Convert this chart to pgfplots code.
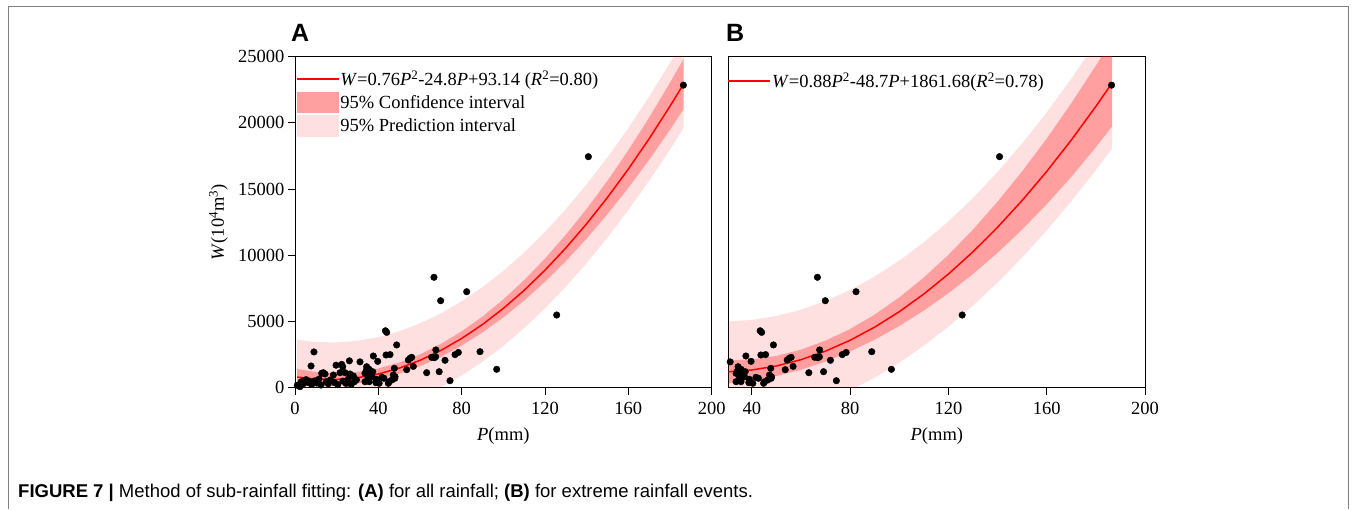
\documentclass[border=0pt]{standalone}
\usepackage{fontspec}
\setmainfont{Liberation Serif}
\newfontfamily\arialfont{Liberation Sans}
\usepackage{pgfplots}
\pgfplotsset{compat=1.18}
\usepackage{pgfplotstable}

\definecolor{cileg}{RGB}{255,160,160}
\definecolor{pileg}{RGB}{255,224,224}

\pgfplotstableread{
P W
1.1 180
2.4 80
3.0 450
4.0 300
4.8 580
5.5 600
6.5 380
7.2 453
7.7 1640
8.0 250
9.1 2700
9.5 520
10.5 350
11.5 650
12.5 200
12.8 1088
13.6 1133
14.4 1035
15.0 450
16.0 300
17.0 580
18.4 959
19.0 380
19.7 1700
20.5 230
21.6 1133
22.4 1760
22.9 1580
23.0 500
24.0 1133
24.5 320
25.5 650
26.1 2030
26.4 1035
27.0 250
28.0 884
28.5 450
29.5 600
31.2 1950
33.6 1088
33.6 453
34.3 1337
34.4 1586
35.0 831
35.6 1390
35.6 453
36.3 1035
37.0 831
37.3 1208
37.6 2394
38.8 378
39.0 634
39.7 1990
40.4 332
41.7 785
42.7 710
43.4 4300
43.7 2470
44.0 4180
44.8 332
45.1 453
45.6 2500
46.5 582
47.2 959
47.7 1465
47.9 710
48.0 831
48.8 3230
53.6 1360
54.4 2092
55.2 2220
56.0 2296
56.8 1610
63.2 1133
65.6 2296
66.7 8340
66.9 2266
67.5 2340
67.6 2850
69.2 1208
69.9 6570
72.0 2070
74.4 529
76.8 2500
78.4 2660
82.4 7250
88.8 2720
96.8 1390
125.6 5490
140.8 17450
186.4 22850
}\ptsdata

\pgfplotstableread{
P fit
1 805
10 649
20 624
30 753
40 1036
50 1475
60 2068
70 2817
80 3720
90 4777
100 5990
110 7357
120 8880
130 10557
140 12388
150 14375
160 16516
170 18813
180 21264
186.5 22939
}\fitA

\pgfplotstableread{
P fit
30.6 1207
40 1336
50 1640
60 2116
70 2764
80 3584
90 4576
100 5740
110 7076
120 8584
130 10264
140 12116
150 14140
160 16336
170 18704
180 21244
186.6 23015
}\fitB

\pgfplotsset{
  myaxis/.style={
    scale only axis, height=331pt, anchor=south west,
    ymin=0, ymax=25000,
    axis line style={line width=0.9pt},
    every tick/.style={line width=0.9pt, black},
    tick align=outside, major tick length=7pt,
    xtick pos=bottom, ytick pos=left,
    font=\fontsize{18.5}{22}\selectfont,
    ticklabel style={font=\fontsize{18.5}{22}\selectfont},
    xticklabel style={yshift=-4pt},
    /pgf/number format/assume math mode=true,
    /pgf/number format/1000 sep={},
    scaled ticks=false,
    xlabel style={at={(axis description cs:0.5,-0.121)}, anchor=north, inner sep=0pt},
    ylabel style={at={(axis description cs:-0.161,0.5)}, anchor=south, inner sep=0pt},
    legend style={draw=none, fill=none, inner sep=0pt, row sep=2pt,
      nodes={inner sep=1pt}, cells={anchor=west},
      font=\fontsize{18.5}{22}\selectfont},
  },
  lineleg/.style={legend image code/.code={
      \path[draw=none, fill=none] (0pt,-10.75pt) rectangle (42pt,10.75pt);
      \draw[red, line width=1.5pt] (0pt,0pt) -- (42pt,0pt);}},
  cileg/.style={legend image code/.code={
      \fill[cileg, draw=none] (0pt,-10.75pt) rectangle (42pt,10.75pt);}},
  pileg/.style={legend image code/.code={
      \fill[pileg, draw=none] (0pt,-10.75pt) rectangle (42pt,10.75pt);}},
  ptsstyle/.style={only marks, mark=*, mark size=3.3pt, black, forget plot},
  pistyle/.style={fill=red, fill opacity=0.12, draw=none, mark=none, forget plot},
  cistyle/.style={fill=red, fill opacity=0.286, draw=none, mark=none, forget plot},
}

\begin{document}
\begin{tikzpicture}
\fill[white] (0pt,0pt) rectangle (1356pt,509pt);
\draw[black!50, line width=0.9pt] (8pt,0pt) -- (8pt,503pt) -- (1348pt,503pt) -- (1348pt,0pt);

% Panel A
\begin{axis}[myaxis, at={(295pt,121.3pt)}, width=416.7pt,
  xmin=0, xmax=200, xtick={0,40,...,200}, ytick={0,5000,...,25000},
  xlabel={\textit{P}(mm)}, ylabel={\textit{W}(10\textsuperscript{4}m\textsuperscript{3})},
  legend style={at={(0,1)}, anchor=north west, xshift=0.7pt, yshift=-11.55pt}]
\addplot[ptsstyle] table[x=P,y=W]{\ptsdata};
\addplot[pistyle] coordinates {(1,3622) (10,3452) (20,3416) (30,3538) (40,3818) (50,4258) (60,4855) (70,5610) (80,6523) (90,7592) (100,8823) (110,10213) (120,11767) (130,13483) (140,15357) (150,17400) (160,19610) (170,21995) (180,24540) (186.5,26277)
 (186.5,19601) (180,17988) (170,15631) (160,13422) (150,11350) (140,9419) (130,7631) (120,5993) (110,4501) (100,3157) (90,1962) (80,917) (70,24) (60,-719) (50,-1308) (40,-1746) (30,-2032) (20,-2168) (10,-2154) (1,-2012)};
\addplot[cistyle] coordinates {(1,1415) (10,1189) (20,1104) (30,1193) (40,1456) (50,1900) (60,2518) (70,3307) (80,4260) (90,5377) (100,6670) (110,8127) (120,9760) (130,11557) (140,13508) (150,15635) (160,17936) (170,20413) (180,23044) (186.5,24829)
 (186.5,21049) (180,19484) (170,17213) (160,15096) (150,13115) (140,11268) (130,9557) (120,8000) (110,6587) (100,5310) (90,4177) (80,3180) (70,2327) (60,1618) (50,1050) (40,616) (30,313) (20,144) (10,109) (1,195)};
\addplot[red, line width=1.5pt, mark=none, forget plot] table[x=P,y=fit]{\fitA};
\addlegendimage{red, line width=1.5pt, lineleg}
\addlegendentry{\textit{W}=0.76\textit{P}\textsuperscript{2}-24.8\textit{P}+93.14 (\textit{R}\textsuperscript{2}=0.80)}
\addlegendimage{cileg}
\addlegendentry{95\% Confidence interval}
\addlegendimage{pileg}
\addlegendentry{95\% Prediction interval}
\end{axis}

% Panel B
\begin{axis}[myaxis, at={(728.7pt,121.3pt)}, width=416.3pt,
  xmin=30.6, xmax=200, xtick={40,80,...,200}, ytick=\empty,
  xlabel={\textit{P}(mm)},
  legend style={at={(0,1)}, anchor=north west, xshift=-1.4pt, yshift=-13.2pt}]
\addplot[ptsstyle, restrict x to domain=30.6:200] table[x=P,y=W]{\ptsdata};
\addplot[pistyle] coordinates {(30.6,5010) (40,5121) (50,5417) (60,5893) (70,6547) (80,7380) (90,8396) (100,9594) (110,10981) (120,12558) (130,14328) (140,16289) (150,18445) (160,20790) (170,23332) (180,26058) (186.6,27960)
 (186.6,18070) (180,16430) (170,14076) (160,11882) (150,9835) (140,7943) (130,6200) (120,4610) (110,3171) (100,1886) (90,756) (80,-212) (70,-1019) (60,-1661) (50,-2137) (40,-2449) (30.6,-2596)};
\addplot[cistyle] coordinates {(30.6,2087) (40,2136) (50,2400) (60,2876) (70,3554) (80,4434) (90,5526) (100,6820) (110,8326) (120,10034) (130,11944) (140,14046) (150,16340) (160,18816) (170,21484) (180,24324) (186.6,26295)
 (186.6,19735) (180,18164) (170,15924) (160,13856) (150,11940) (140,10186) (130,8584) (120,7134) (110,5826) (100,4660) (90,3626) (80,2734) (70,1974) (60,1356) (50,880) (40,536) (30.6,327)};
\addplot[red, line width=1.5pt, mark=none, forget plot] table[x=P,y=fit]{\fitB};
\addlegendimage{red, line width=1.5pt, lineleg}
\addlegendentry{\textit{W}=0.88\textit{P}\textsuperscript{2}-48.7\textit{P}+1861.68(\textit{R}\textsuperscript{2}=0.78)}
\end{axis}

\node[anchor=base west, inner sep=0pt, font=\arialfont\bfseries\fontsize{25}{25}\selectfont] at (291pt,467pt) {A};
\node[anchor=base west, inner sep=0pt, font=\arialfont\bfseries\fontsize{25}{25}\selectfont] at (726pt,467pt) {B};
\node[anchor=base west, inner sep=0pt, font=\arialfont\fontsize{18.5}{22}\selectfont] at (18pt,12pt)
  {\textbf{FIGURE 7 |} Method of sub-rainfall fitting: \textbf{(A)} for all rainfall; \textbf{(B)} for extreme rainfall events.};
\end{tikzpicture}
\end{document}
